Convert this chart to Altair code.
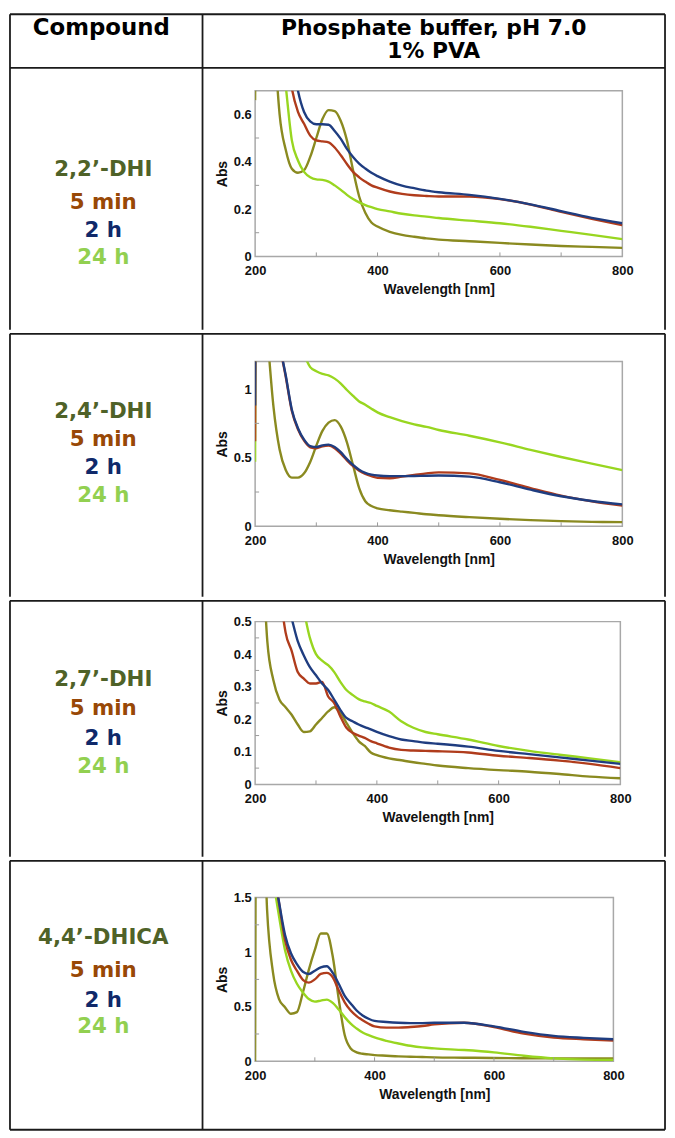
import altair as alt
import pandas as pd

# ---------------- data ----------------
GRID = [200, 202, 210, 220, 230, 240, 250, 260, 270, 280, 290, 300, 310, 320, 330,
        340, 350, 360, 370, 380, 390, 400, 420, 440, 460, 480, 500, 550, 600, 650,
        700, 750, 800]

P1_OLIVE = [0.66, 2.0, 2.2, 1.6, 1.0, 0.60, 0.45, 0.37, 0.353, 0.364, 0.42, 0.50, 0.58, 0.618, 0.614,
            0.572, 0.49, 0.364, 0.253, 0.184, 0.143, 0.126, 0.104, 0.091, 0.083, 0.076, 0.071, 0.064, 0.057, 0.05,
            0.044, 0.04, 0.036]
P1_RED = [3.0, 3.0, 2.5, 2.0, 1.6, 1.2, 0.9, 0.71, 0.61, 0.56, 0.51, 0.49, 0.486, 0.482, 0.46,
          0.427, 0.39, 0.357, 0.334, 0.316, 0.30, 0.29, 0.274, 0.264, 0.258, 0.255, 0.253, 0.253, 0.242, 0.219,
          0.188, 0.159, 0.132]
P1_BLUE = [3.0, 3.0, 2.6, 2.1, 1.7, 1.35, 1.1, 0.85, 0.70, 0.61, 0.57, 0.558, 0.558, 0.556, 0.53,
           0.496, 0.454, 0.42, 0.392, 0.371, 0.353, 0.339, 0.316, 0.299, 0.288, 0.278, 0.271, 0.26, 0.243, 0.22,
           0.191, 0.163, 0.14]
P1_GREEN = [3.0, 3.0, 2.2, 1.7, 1.25, 0.95, 0.72, 0.49, 0.405, 0.357, 0.334, 0.325, 0.323, 0.316, 0.30,
            0.281, 0.26, 0.242, 0.228, 0.217, 0.208, 0.20, 0.19, 0.18, 0.173, 0.168, 0.162, 0.151, 0.14, 0.125,
            0.108, 0.091, 0.073]

P2_OLIVE = [2.5, 2.5, 2.0, 1.4, 0.87, 0.56, 0.41, 0.355, 0.355, 0.386, 0.469, 0.588, 0.695, 0.755, 0.774,
            0.726, 0.612, 0.445, 0.279, 0.183, 0.148, 0.131, 0.117, 0.107, 0.098, 0.088, 0.081, 0.067, 0.055, 0.045,
            0.038, 0.033, 0.031]
P2_RED = [0.62, 3.0, 2.6, 2.0, 1.6, 1.32, 1.09, 0.84, 0.707, 0.624, 0.576, 0.569, 0.583, 0.588, 0.569,
          0.529, 0.481, 0.438, 0.405, 0.381, 0.365, 0.353, 0.35, 0.362, 0.374, 0.386, 0.393, 0.386, 0.338, 0.279,
          0.224, 0.183, 0.152]
P2_BLUE = [0.88, 3.0, 2.6, 2.0, 1.6, 1.33, 1.10, 0.85, 0.715, 0.632, 0.585, 0.578, 0.59, 0.595, 0.578,
           0.54, 0.49, 0.447, 0.413, 0.39, 0.377, 0.37, 0.366, 0.366, 0.367, 0.369, 0.37, 0.362, 0.321, 0.267,
           0.219, 0.185, 0.16]
P2_GREEN = [0.47, 3.0, 2.6, 2.2, 1.9, 1.7, 1.55, 1.45, 1.36, 1.25, 1.16, 1.13, 1.11, 1.10, 1.076,
            1.04, 0.993, 0.95, 0.91, 0.886, 0.857, 0.83, 0.795, 0.767, 0.743, 0.724, 0.702, 0.66, 0.612, 0.557,
            0.505, 0.457, 0.41]

P3_OLIVE = [1.2, 1.1, 0.8, 0.44, 0.32, 0.26, 0.237, 0.214, 0.184, 0.161, 0.163, 0.184, 0.204, 0.224, 0.237,
            0.219, 0.189, 0.159, 0.133, 0.118, 0.098, 0.09, 0.08, 0.074, 0.068, 0.063, 0.058, 0.05, 0.044, 0.039,
            0.032, 0.024, 0.019]
P3_RED = [3.0, 3.0, 2.0, 1.3, 0.9, 0.62, 0.467, 0.41, 0.345, 0.325, 0.31, 0.31, 0.315, 0.27, 0.25,
          0.209, 0.174, 0.159, 0.15, 0.143, 0.133, 0.126, 0.113, 0.106, 0.104, 0.103, 0.102, 0.098, 0.088, 0.081,
          0.073, 0.063, 0.05]
P3_BLUE = [3.0, 3.0, 2.2, 1.5, 1.05, 0.75, 0.58, 0.51, 0.44, 0.396, 0.36, 0.335, 0.31, 0.29, 0.26,
           0.229, 0.204, 0.194, 0.184, 0.176, 0.169, 0.161, 0.148, 0.138, 0.133, 0.128, 0.125, 0.116, 0.103, 0.093,
           0.083, 0.073, 0.063]
P3_GREEN = [3.0, 3.0, 2.5, 1.8, 1.3, 1.0, 0.8, 0.66, 0.58, 0.53, 0.45, 0.40, 0.38, 0.366, 0.345,
            0.315, 0.29, 0.275, 0.262, 0.255, 0.25, 0.241, 0.224, 0.194, 0.174, 0.161, 0.154, 0.138, 0.118, 0.103,
            0.091, 0.08, 0.068]

P4_OLIVE = [0.0, 3.0, 3.0, 1.39, 0.81, 0.57, 0.495, 0.435, 0.45, 0.63, 0.84, 1.02, 1.17, 1.17, 0.96,
            0.57, 0.24, 0.118, 0.082, 0.069, 0.063, 0.057, 0.051, 0.045, 0.042, 0.039, 0.036, 0.033, 0.03, 0.028,
            0.027, 0.027, 0.027]
P4_RED = [3.0, 3.0, 3.0, 2.4, 1.8, 1.45, 1.11, 0.93, 0.83, 0.746, 0.72, 0.75, 0.80, 0.81, 0.77,
          0.65, 0.54, 0.465, 0.414, 0.375, 0.344, 0.32, 0.308, 0.308, 0.314, 0.323, 0.338, 0.353, 0.314, 0.254,
          0.218, 0.202, 0.19]
P4_BLUE = [3.0, 3.0, 3.0, 2.4, 1.8, 1.46, 1.16, 0.99, 0.89, 0.82, 0.80, 0.83, 0.86, 0.87, 0.81,
           0.71, 0.60, 0.53, 0.465, 0.42, 0.39, 0.37, 0.36, 0.353, 0.35, 0.35, 0.353, 0.353, 0.32, 0.27,
           0.233, 0.215, 0.202]
P4_GREEN = [3.0, 3.0, 3.0, 2.3, 1.7, 1.33, 1.02, 0.83, 0.71, 0.63, 0.57, 0.547, 0.556, 0.565, 0.535,
            0.474, 0.405, 0.344, 0.30, 0.263, 0.239, 0.218, 0.187, 0.163, 0.142, 0.127, 0.118, 0.103, 0.082, 0.051,
            0.027, 0.015, 0.012]

X_TICKS = [200, 400, 600, 800]
X_MINOR = [300, 400, 500, 600, 700]
P1_YTICKS = [0, 0.2, 0.4, 0.6]
P2_YTICKS = [0, 0.5, 1]
P3_YTICKS = [0, 0.1, 0.2, 0.3, 0.4, 0.5]
P4_YTICKS = [0, 0.5, 1, 1.5]
P1_YMINOR = [0.1, 0.3, 0.5]
P2_YMINOR = [0.25, 0.75]
P3_YMINOR = [0.05, 0.15, 0.25, 0.35, 0.45]
P4_YMINOR = [0.25, 0.75, 1.25]

COMPOUNDS = ["2,2’-DHI", "2,4’-DHI", "2,7’-DHI", "4,4’-DHICA"]
TIMES = ["5 min", "2 h", "24 h"]
HEADER_LEFT = "Compound"
HEADER_RIGHT = ["Phosphate buffer, pH 7.0", "1% PVA"]

# ---------------- styles / layout ----------------
LINE_COLORS = {"olive": "#8a8a20", "green": "#98d620", "red": "#b03c1c", "blue": "#1f3d80"}
LABEL_COLORS = ["#4f6228", "#984806", "#10296a", "#92d050"]
BORDER = "#1a1a1a"
BW = 1.8
FIG_W = 660
DIV_X = 194
LABEL_X = 94
L = 247            # common left offset of every plot area inside the table
HEADER_H = 54
TEXT_FONT = "DejaVu Sans"
AX_FONT = "Liberation Sans"

ROWS = [
    dict(ch=264, top=23, w=370, ph=167, ymax=0.7, yt=P1_YTICKS, ym=P1_YMINOR,
         ly=[103, 136, 164, 192],
         s=dict(olive=P1_OLIVE, green=P1_GREEN, red=P1_RED, blue=P1_BLUE)),
    dict(ch=265, top=28, w=370, ph=166, ymax=1.2, yt=P2_YTICKS, ym=P2_YMINOR,
         ly=[79, 107, 135, 163],
         s=dict(olive=P2_OLIVE, green=P2_GREEN, red=P2_RED, blue=P2_BLUE)),
    dict(ch=258, top=21, w=368, ph=164, ymax=0.5, yt=P3_YTICKS, ym=P3_YMINOR,
         ly=[80, 109, 139, 168],
         s=dict(olive=P3_OLIVE, green=P3_GREEN, red=P3_RED, blue=P3_BLUE)),
    dict(ch=271, top=37, w=361, ph=165, ymax=1.5, yt=P4_YTICKS, ym=P4_YMINOR,
         ly=[78, 111, 141, 168],
         s=dict(olive=P4_OLIVE, green=P4_GREEN, red=P4_RED, blue=P4_BLUE)),
]

ONE = pd.DataFrame({"k": [0]})


def text_layer(txt, x, y, color, size):
    return alt.Chart(ONE).mark_text(
        text=txt, font=TEXT_FONT, fontWeight="bold", fontSize=size, color=color,
        align="center", baseline="middle"
    ).encode(x=alt.value(x), y=alt.value(y))


def hline(y, x0, x1):
    return alt.Chart(ONE).mark_rule(color=BORDER, strokeWidth=BW).encode(
        y=alt.value(y), x=alt.value(x0), x2=alt.value(x1))


def vline(x, y0, y1):
    return alt.Chart(ONE).mark_rule(color=BORDER, strokeWidth=BW).encode(
        x=alt.value(x), y=alt.value(y0), y2=alt.value(y1))


def row_chart(i, cfg, first, last):
    top, ch, ph = cfg["top"], cfg["ch"], cfg["ph"]
    xs = alt.Scale(domain=[200, 800], nice=False, zero=False)
    ys = alt.Scale(domain=[0, cfg["ymax"]], nice=False)
    xaxis = alt.Axis(values=X_TICKS, title="Wavelength [nm]", labelFlush=False,
                     labelPadding=8, titlePadding=5)
    yaxis = alt.Axis(values=cfg["yt"], title="Abs", format="~g", labelPadding=4, titlePadding=4)
    layers = []
    for key in ["olive", "green", "red", "blue"]:
        df = pd.DataFrame({"wl": GRID, "abs": cfg["s"][key]})
        layers.append(
            alt.Chart(df).mark_line(color=LINE_COLORS[key], strokeWidth=2.4, clip=True,
                                    interpolate="monotone")
            .encode(x=alt.X("wl:Q", scale=xs, axis=xaxis),
                    y=alt.Y("abs:Q", scale=ys, axis=yaxis))
        )
    xt = pd.DataFrame({"wl": X_MINOR})
    layers.append(
        alt.Chart(xt).mark_rule(color="#9a9a9a", strokeWidth=1)
        .encode(x=alt.X("wl:Q", scale=xs, axis=xaxis), y=alt.value(ph), y2=alt.value(ph - 4))
    )
    yt = pd.DataFrame({"abs": cfg["ym"]})
    layers.append(
        alt.Chart(yt).mark_rule(color="#9a9a9a", strokeWidth=1)
        .encode(y=alt.Y("abs:Q", scale=ys, axis=yaxis), x=alt.value(0), x2=alt.value(4))
    )
    y0 = -top - (HEADER_H if first else 0)
    y1 = ch - top
    # transparent cell box that fixes the row's extent in the layout
    layers.append(
        alt.Chart(ONE).mark_rect(opacity=0, color="#ffffff")
        .encode(x=alt.value(-L), x2=alt.value(FIG_W - L), y=alt.value(y0), y2=alt.value(y1))
    )
    # table grid
    layers.append(hline(-top, -L, FIG_W - L))
    if first:
        layers.append(hline(y0, -L, FIG_W - L))
    if last:
        layers.append(hline(y1, -L, FIG_W - L))
    layers.append(vline(-L, y0, y1))
    layers.append(vline(FIG_W - L, y0, y1))
    layers.append(vline(DIV_X - L, y0, y1))
    if first:
        cx = DIV_X + (FIG_W - DIV_X) / 2 - L
        layers.append(text_layer(HEADER_LEFT, LABEL_X - 2 - L, y0 + 14, "#000000", 23))
        layers.append(text_layer(HEADER_RIGHT[0], cx, y0 + 14, "#000000", 22))
        layers.append(text_layer(HEADER_RIGHT[1], cx, y0 + 37, "#000000", 22))
    names = [COMPOUNDS[i]] + TIMES
    for txt, ly, col in zip(names, cfg["ly"], LABEL_COLORS):
        layers.append(text_layer(txt, LABEL_X - L, ly - top, col, 21.5))
    return alt.layer(*layers).properties(width=cfg["w"], height=ph)


charts = [row_chart(i, r, i == 0, i == len(ROWS) - 1) for i, r in enumerate(ROWS)]

chart = alt.vconcat(*charts, spacing=0).properties(
    padding=0
).configure_view(
    stroke="#a8a8a8", strokeWidth=1.5
).configure_axis(
    grid=False, domain=False, ticks=False, tickSize=0,
    labelFont=AX_FONT, labelFontWeight="bold", labelFontSize=13, labelColor="#111111",
    titleFont=AX_FONT, titleFontWeight="bold", titleFontSize=14, titleColor="#111111"
)

chart.save("out.html", embed_options={"renderer": "svg", "actions": False})
